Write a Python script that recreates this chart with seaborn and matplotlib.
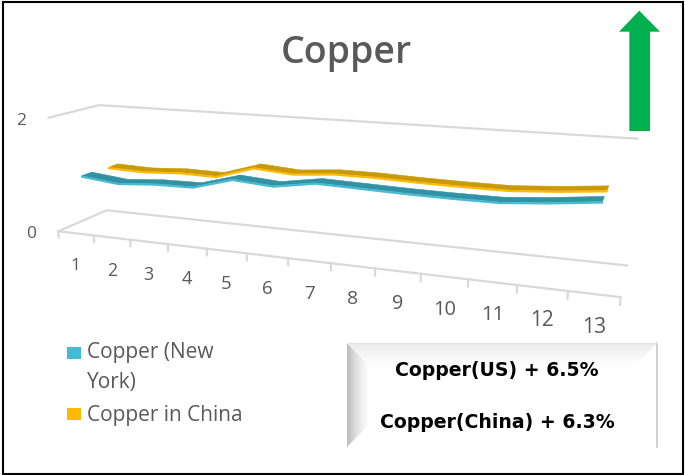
import numpy as np
import pandas as pd
import matplotlib
matplotlib.use("Agg")
import matplotlib.pyplot as plt
from matplotlib.patches import Polygon, Rectangle
from matplotlib.collections import PolyCollection
from matplotlib.colors import LinearSegmentedColormap
import seaborn as sns

# ---- data -------------------------------------------------------------
categories = list(range(1, 14))
copper_new_york = [0.96, 0.89, 0.94, 0.95, 1.14, 1.09, 1.20, 1.18, 1.16, 1.15, 1.15, 1.21, 1.29]
copper_china = [0.94, 0.92, 0.96, 0.95, 1.16, 1.11, 1.17, 1.17, 1.15, 1.14, 1.14, 1.19, 1.26]
series_names = ["Copper (New York)", "Copper in China"]
value_ticks = [0, 2]
chart_title = "Copper"
summary_lines = ["Copper(US) + 6.5%", "Copper(China) + 6.3%"]

# ---- style ------------------------------------------------------------
sns.set_theme(style="white")
plt.rcParams["font.family"] = ["Open Sans", "DejaVu Sans"]
TEXT = "#595959"
GRID = "#D9D9D9"
face_colors = {"Copper (New York)": "#42BBD3", "Copper in China": "#FFBA00"}
top_colors = {"Copper (New York)": "#3092A3", "Copper in China": "#C99A05"}
row_depth = {"Copper (New York)": 0.30, "Copper in China": 0.85}

W, H = 685, 475
fig = plt.figure(figsize=(W / 100, H / 100), dpi=100)
ax = fig.add_axes([0, 0, 1, 1])
ax.set_xlim(0, W)
ax.set_ylim(H, 0)
ax.axis("off")

# ---- perspective camera for the 3D plot box -----------------------------
# world coordinates: (category, depth 0=front..1=back, value)
X0, X1 = categories[0] - 0.5, categories[-1] + 0.5
ZMIN, ZMAX = value_ticks[0], value_ticks[-1]
box_world = np.array([
    [X0, 0, ZMIN], [X1, 0, ZMIN], [X0, 1, ZMIN], [X1, 1, ZMIN],
    [X0, 1, ZMAX], [X1, 1, ZMAX], [X0, 0, ZMAX],
    [3.5, 0, ZMIN], [6.5, 0, ZMIN], [9.5, 0, ZMIN],
])
box_screen = np.array([
    [58.3, 231.7], [621.0, 296.7], [106.7, 210.0], [627.3, 265.7],
    [99.3, 105.0], [638.0, 139.0], [48.3, 117.7],
    [167.9, 244.4], [288.0, 258.2], [420.5, 273.5],
])


def fit_camera(world, screen):
    wm = world.mean(0)
    ws = np.sqrt(3) / np.mean(np.linalg.norm(world - wm, axis=1))
    sm = screen.mean(0)
    ss = np.sqrt(2) / np.mean(np.linalg.norm(screen - sm, axis=1))
    T = np.array([[ss, 0, -ss * sm[0]], [0, ss, -ss * sm[1]], [0, 0, 1.0]])
    U = np.diag([ws, ws, ws, 1.0])
    U[:3, 3] = -ws * wm
    wn = (U @ np.c_[world, np.ones(len(world))].T).T
    sn = (T @ np.c_[screen, np.ones(len(screen))].T).T
    rows = []
    for (X, Y, Z, Wh), (u, v, _) in zip(wn, sn):
        rows.append([X, Y, Z, Wh, 0, 0, 0, 0, -u * X, -u * Y, -u * Z, -u * Wh])
        rows.append([0, 0, 0, 0, X, Y, Z, Wh, -v * X, -v * Y, -v * Z, -v * Wh])
    _, _, vt = np.linalg.svd(np.array(rows))
    return np.linalg.inv(T) @ vt[-1].reshape(3, 4) @ U


CAM = fit_camera(box_world, box_screen)


def project(x, d, z):
    x, d, z = np.broadcast_arrays(np.asarray(x, float), np.asarray(d, float),
                                  np.asarray(z, float))
    h = CAM @ np.vstack([x.ravel(), d.ravel(), z.ravel(), np.ones(x.size)])
    return h[0] / h[2], h[1] / h[2]


def seg3d(pts, **kw):
    p = np.array(pts, float)
    u, v = project(p[:, 0], p[:, 1], p[:, 2])
    ax.plot(u, v, **kw)


# ---- walls, floor and category axis ------------------------------------
grid_kw = dict(color=GRID, lw=1.6, solid_capstyle="round", zorder=1)
for z in value_ticks:
    seg3d([[X0, 0, z], [X0, 1, z], [X1, 1, z]], **grid_kw)
seg3d([[X0, 0, ZMIN], [X1, 0, ZMIN]], **grid_kw)
for b in np.arange(X0, X1 + 0.01, 1.0):
    seg3d([[b, 0, ZMIN], [b, 0, ZMIN - 0.12]], **grid_kw)

# value labels on the left wall
for z in value_ticks:
    u, v = project(X0, 0, z)
    ax.text(u[0] - 27.5, v[0] + 3, str(z), fontsize=12.5, color=TEXT,
            ha="center", va="center")

# category labels, growing with the perspective
ref = None
for c in categories:
    u0, v0 = project(c, 0, ZMIN)
    u1, v1 = project(c, 0, ZMAX)
    span = np.hypot(u1[0] - u0[0], v1[0] - v0[0])
    ref = ref or span
    ax.text(u0[0], v0[0] + 33, str(c), fontsize=12.6 * span / ref, color=TEXT,
            ha="center", va="center")

# ---- 3D ribbons --------------------------------------------------------
HALF = 0.10   # half depth of a ribbon
LIP = 0.035   # height of the ribbon's front face
values = {"Copper (New York)": copper_new_york, "Copper in China": copper_china}
rows = []
for name in reversed(series_names):
    x = np.array(categories, float)
    z = np.array(values[name], float)
    d = row_depth[name]
    fu, fv = project(x, d - HALF, z)
    bu, bv = project(x, d + HALF, z)
    quads = [[(fu[i], fv[i]), (fu[i + 1], fv[i + 1]), (bu[i + 1], bv[i + 1]), (bu[i], bv[i])]
             for i in range(len(x) - 1)]
    ax.add_collection(PolyCollection(quads, facecolors=top_colors[name],
                                     edgecolors=top_colors[name], linewidths=0.4,
                                     zorder=3))
    lu, lv = project(x, d - HALF, z - LIP / 2)
    rows.append(pd.DataFrame({"u": lu, "v": lv, "series": name}))
front = pd.concat(rows, ignore_index=True)
sns.lineplot(data=front, x="u", y="v", hue="series", palette=face_colors,
             sort=False, estimator=None, legend=False, linewidth=1.5, ax=ax,
             zorder=4)
ax.set_xlim(0, W)
ax.set_ylim(H, 0)
ax.axis("off")

# ---- title -------------------------------------------------------------
ax.text(346, 62.5, chart_title, fontsize=27, fontweight="semibold", color=TEXT,
        ha="center", va="baseline")

# ---- legend ------------------------------------------------------------
leg_x, leg_tx = 66.7, 86.7
ax.add_patch(Rectangle((leg_x, 346.7), 14, 12.6, color=face_colors[series_names[0]], lw=0))
ax.text(leg_tx, 358.3, "Copper (New", fontsize=15, color=TEXT, va="baseline")
ax.text(leg_tx, 388.0, "York)", fontsize=15, color=TEXT, va="baseline")
ax.add_patch(Rectangle((leg_x, 407.5), 14, 12.6, color=face_colors[series_names[1]], lw=0))
ax.text(leg_tx, 420.7, series_names[1], fontsize=15, color=TEXT, va="baseline")

# ---- bevelled summary box ---------------------------------------------
bx0, by0, bx1, by1 = 347, 343, 657, 447
bev = 22
ax.add_patch(Rectangle((bx0, by0), bx1 - bx0, by1 - by0, color="white", zorder=5))
left_clip = Polygon([(bx0, by0), (bx0 + bev, by0 + bev), (bx0 + bev, by1 - bev), (bx0, by1)],
                    closed=True, fc="none", ec="none")
ax.add_patch(left_clip)
grad = LinearSegmentedColormap.from_list("bev", ["#BDBDBD", "#E6E6E6", "#FFFFFF"])
im = ax.imshow(np.linspace(0, 1, 64)[None, :], cmap=grad, aspect="auto",
               extent=(bx0, bx0 + bev, by1, by0), zorder=6)
im.set_clip_path(left_clip)
top_clip = Polygon([(bx0, by0), (bx1, by0), (bx1 - bev, by0 + bev), (bx0 + bev, by0 + bev)],
                   closed=True, fc="none", ec="none")
ax.add_patch(top_clip)
grad_top = LinearSegmentedColormap.from_list("bevt", ["#EBEBEB", "#FFFFFF"])
im2 = ax.imshow(np.linspace(0, 1, 64)[:, None], cmap=grad_top, aspect="auto",
                extent=(bx0, bx1, by0 + bev, by0), origin="upper", zorder=6)
im2.set_clip_path(top_clip)
ax.plot([bx1, bx1], [by0, by1], color="#CFCFCF", lw=1.4, zorder=7)
ax.plot([bx0, bx1], [by0, by0], color="#E3E3E3", lw=1.0, zorder=7)
ax.text(497, 376, summary_lines[0], fontsize=13.6, fontweight="bold", color="black",
        family="DejaVu Sans", ha="center", va="baseline", zorder=8)
ax.text(497, 428.3, summary_lines[1], fontsize=13.6, fontweight="bold", color="black",
        family="DejaVu Sans", ha="center", va="baseline", zorder=8)

# ---- green up arrow ----------------------------------------------------
ax.add_patch(Polygon([(639.3, 10.7), (660, 31.7), (650, 31.7), (650, 131),
                      (629.3, 131), (629.3, 31.7), (619, 31.7)],
                     closed=True, color="#00B050", lw=0, zorder=5))

# ---- outer frame -------------------------------------------------------
ax.add_patch(Rectangle((2.7, 1.8), 680.6, 472, fill=False, ec="black", lw=1.5, zorder=10))

ax.set_xlim(0, W)
ax.set_ylim(H, 0)
fig.savefig("out.png", dpi=100)
